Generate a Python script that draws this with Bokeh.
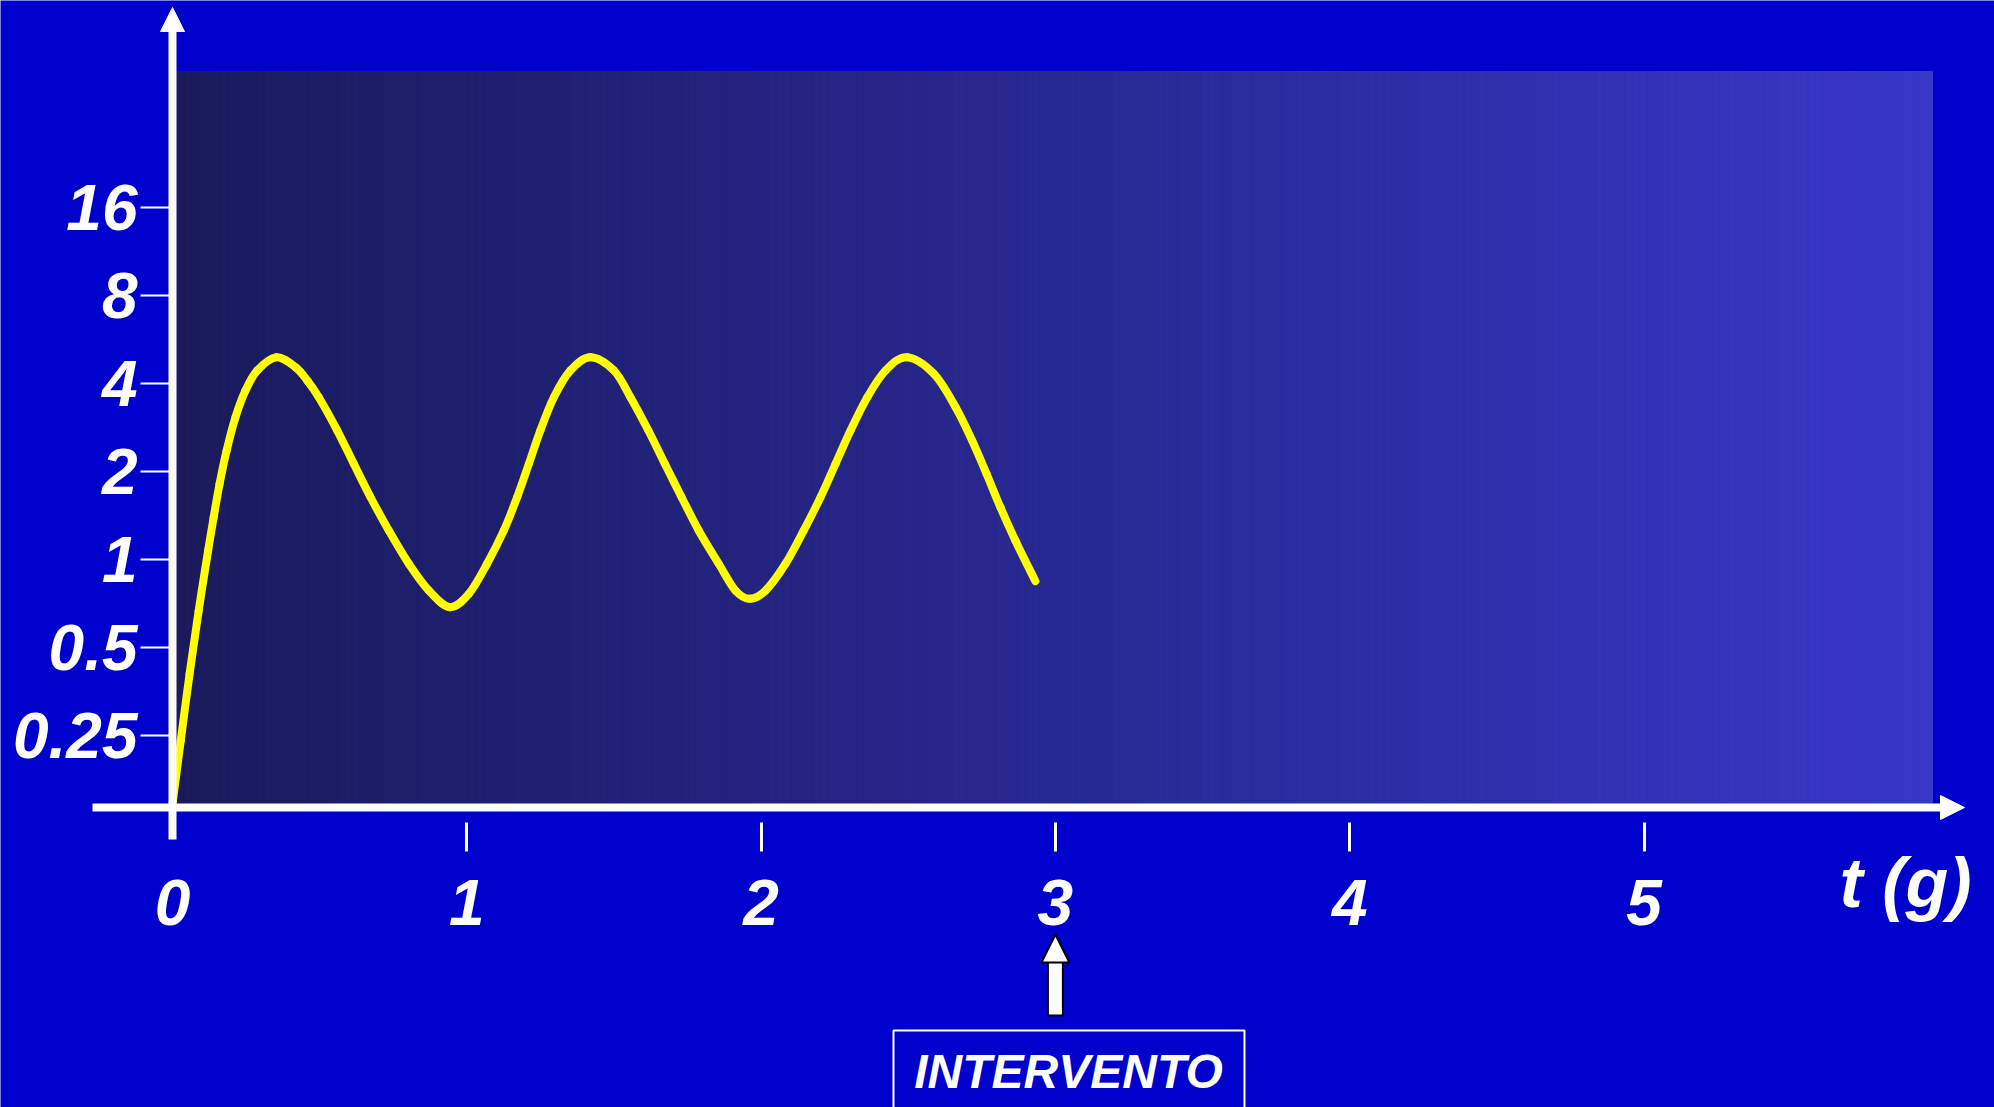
import numpy as np
from bokeh.plotting import figure
from bokeh.models import Range1d, LinearAxis, LogAxis, FixedTicker, Arrow, NormalHead, Label
from bokeh.embed import file_html
from bokeh.resources import INLINE

# ---------------- data ----------------
days = [0.000, 0.028, 0.058, 0.089, 0.121, 0.140, 0.160, 0.184, 0.214, 0.248,
        0.288, 0.353, 0.418, 0.458, 0.497, 0.560, 0.616, 0.673, 0.735, 0.803,
        0.871, 0.942, 1.007, 1.069, 1.126, 1.171, 1.211, 1.250, 1.296, 1.352,
        1.420, 1.500, 1.556, 1.617, 1.673, 1.730, 1.788, 1.856, 1.913, 1.961,
        2.015, 2.083, 2.145, 2.202, 2.253, 2.304, 2.361, 2.423, 2.496, 2.587,
        2.661, 2.717, 2.766, 2.813, 2.864, 2.932]
level = [0.146, 0.240, 0.406, 0.669, 1.073, 1.395, 1.815, 2.360, 3.067, 3.784,
         4.431, 4.922, 4.548, 4.096, 3.590, 2.762, 2.125, 1.633, 1.257, 0.967,
         0.783, 0.687, 0.763, 0.967, 1.257, 1.633, 2.125, 2.762, 3.590, 4.431,
         4.922, 4.431, 3.590, 2.762, 2.125, 1.633, 1.257, 0.967, 0.783, 0.734,
         0.783, 0.967, 1.257, 1.633, 2.125, 2.762, 3.590, 4.431, 4.922, 4.318,
         3.319, 2.553, 1.964, 1.510, 1.162, 0.843]

X_TICKS = [0, 1, 2, 3, 4, 5]
X_LABELS = ["0", "1", "2", "3", "4", "5"]
Y_TICKS = [0.25, 0.5, 1, 2, 4, 8, 16]
Y_LABELS = ["0.25", "0.5", "1", "2", "4", "8", "16"]
X_TITLE = "t (g)"
INTERVENTION_DAY = 3
INTERVENTION_LABEL = "INTERVENTO"

# ---------------- layout helpers (page pixels -> data) ----------------
PX0, PX_PER_DAY = 172.0, 294.3
PY1, PY_PER_OCT = 559.0, 88.0


def tx(px):
    return (px - PX0) / PX_PER_DAY


def vy(py):
    return 2.0 ** ((PY1 - py) / PY_PER_OCT)


BG = "#0000CC"
FONT = "Liberation Sans"
W, H = 1994, 1107

p = figure(width=W, height=H,
           x_range=Range1d(tx(0), tx(W)),
           y_range=Range1d(vy(H), vy(0)),
           y_axis_type="log", x_axis_location=None, y_axis_location=None,
           output_backend="svg", toolbar_location=None, min_border=0,
           background_fill_color=BG, border_fill_color=BG, outline_line_color=None)
p.grid.visible = False

# gradient panel behind the curve
n = 240
edges = np.linspace(tx(176), tx(1932), n + 1)
c0 = np.array([26, 26, 92])
c1 = np.array([55, 55, 200])
cols = []
for i in range(n):
    f = (i + 0.5) / n
    c = (c0 + (c1 - c0) * f).round().astype(int)
    cols.append("#%02x%02x%02x" % tuple(c))
p.quad(left=edges[:-1], right=edges[1:], bottom=vy(803), top=vy(71),
       fill_color=cols, line_color=cols, line_width=1)

# the curve: smooth Bezier segments through the read points (Catmull-Rom tangents,
# computed in the plot's linear/log2 space)
P = np.column_stack([np.array(days), np.log2(np.array(level))])
Pe = np.vstack([P[0], P, P[-1]])
x0, y0, x1, y1, cx0, cy0, cx1, cy1 = ([] for _ in range(8))
for i in range(len(P) - 1):
    a, b, c, d = Pe[i], Pe[i + 1], Pe[i + 2], Pe[i + 3]
    k1 = b + (c - a) / 6.0
    k2 = c - (d - b) / 6.0
    x0.append(b[0]); y0.append(2.0 ** b[1])
    x1.append(c[0]); y1.append(2.0 ** c[1])
    cx0.append(k1[0]); cy0.append(2.0 ** k1[1])
    cx1.append(k2[0]); cy1.append(2.0 ** k2[1])
p.bezier(x0=x0, y0=y0, x1=x1, y1=y1, cx0=cx0, cy0=cy0, cx1=cx1, cy1=cy1,
         line_color="#FFFF00", line_width=8, line_cap="round")

label_style = dict(major_label_text_color="white", major_label_text_font=FONT,
                   major_label_text_font_style="bold italic", major_label_text_font_size="64px")

# y axis
yax = LogAxis(fixed_location=0, bounds=(vy(839), vy(31)),
              ticker=FixedTicker(ticks=Y_TICKS),
              major_label_overrides={t: l for t, l in zip(Y_TICKS, Y_LABELS)},
              axis_line_color="white", axis_line_width=8,
              major_tick_line_color="white", major_tick_line_width=2,
              major_tick_in=0, major_tick_out=32,
              minor_tick_line_color=None, minor_tick_in=0, minor_tick_out=0,
              major_label_standoff=3, **label_style)
p.add_layout(yax, "left")

# x axis (line + labels)
x_axis_level = vy(807)
xax = LinearAxis(fixed_location=x_axis_level, bounds=(tx(92), tx(1940)),
                 ticker=FixedTicker(ticks=X_TICKS),
                 major_label_overrides={t: l for t, l in zip(X_TICKS, X_LABELS)},
                 axis_line_color="white", axis_line_width=8,
                 major_tick_line_color=None, major_tick_in=0, major_tick_out=0,
                 minor_tick_line_color=None, minor_tick_in=0, minor_tick_out=0,
                 major_label_standoff=72, **label_style)
p.add_layout(xax, "below")

# x tick marks (detached from the axis line)
xtk = LinearAxis(fixed_location=x_axis_level,
                 ticker=FixedTicker(ticks=X_TICKS[1:]),
                 major_label_overrides={t: "" for t in X_TICKS[1:]},
                 axis_line_color=None,
                 major_tick_line_color="white", major_tick_line_width=3,
                 major_tick_in=-15, major_tick_out=44,
                 minor_tick_line_color=None, minor_tick_in=0, minor_tick_out=0,
                 major_label_text_font_size="0px")
p.add_layout(xtk, "below")

# axis arrow heads
p.add_layout(Arrow(end=NormalHead(size=24, fill_color="white", line_color="white", line_width=1),
                   x_start=0, y_start=vy(45), x_end=0, y_end=vy(7), line_alpha=0))
p.add_layout(Arrow(end=NormalHead(size=24, fill_color="white", line_color="white", line_width=1),
                   x_start=tx(1920), y_start=x_axis_level, x_end=tx(1964), y_end=x_axis_level,
                   line_alpha=0))

# axis title
p.add_layout(Label(x=tx(1839), y=vy(882), text=X_TITLE, text_align="left",
                   text_baseline="alphabetic", text_color="white", text_font=FONT,
                   text_font_style="bold italic", text_font_size="70px"))

# intervention arrow
p.add_layout(Arrow(end=None, x_start=INTERVENTION_DAY, y_start=vy(1016),
                   x_end=INTERVENTION_DAY, y_end=vy(955), line_color="black", line_width=17))
p.add_layout(Arrow(end=None, x_start=INTERVENTION_DAY, y_start=vy(1014),
                   x_end=INTERVENTION_DAY, y_end=vy(957), line_color="white", line_width=13))
p.add_layout(Arrow(end=NormalHead(size=28, fill_color="white", line_color="black", line_width=2),
                   x_start=INTERVENTION_DAY, y_start=vy(975), x_end=INTERVENTION_DAY,
                   y_end=vy(934), line_alpha=0))

# intervention box and label
p.quad(left=tx(893), right=tx(1244), top=vy(1030), bottom=vy(1140),
       fill_alpha=0, line_color="white", line_width=2)
p.add_layout(Label(x=tx(1068), y=vy(1071), text=INTERVENTION_LABEL, text_align="center",
                   text_baseline="alphabetic", text_color="white", text_font=FONT,
                   text_font_style="bold italic", text_font_size="48px"))

open("out.html", "w").write(file_html(p, INLINE))
